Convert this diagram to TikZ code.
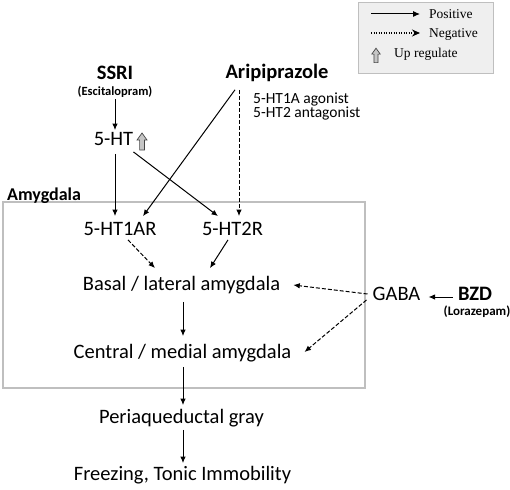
\documentclass[tikz,border=0pt]{standalone}
\usepackage{fontspec}
\setmainfont{Carlito}
\newfontfamily\tms{Liberation Serif}
\usetikzlibrary{arrows.meta,calc}
\definecolor{boxgray}{HTML}{BFBFBF}
\definecolor{legfill}{HTML}{EFEFEF}
\tikzset{
  lbl/.style={inner sep=0pt, text height=0.64em, text depth=0pt, font=\fontsize{20.5}{22}\selectfont},
  bld/.style={inner sep=0pt, text height=0.64em, text depth=0pt, font=\fontsize{20.5}{22}\selectfont\bfseries},
  sub/.style={inner sep=0pt, text height=0.64em, text depth=0pt, font=\fontsize{12.5}{14}\selectfont\bfseries},
  posarrow/.style={line width=1pt, -{Latex[length=6.5pt,width=5.5pt]}},
  negarrow/.style={line width=1pt, dash pattern=on 4pt off 2pt, -{Latex[length=6.5pt,width=5.5pt]}},
  legtxt/.style={inner sep=0pt, anchor=west, font=\tms\fontsize{13.5}{15}\selectfont},
  upicon/.pic={\draw[fill=gray!45, draw=gray!55!black, line width=0.7pt]
     (-2.4,9) -- (-2.4,-1) -- (-5,-1) -- (0,-8) -- (5,-1) -- (2.4,-1) -- (2.4,9) -- cycle;}
}
\begin{document}
\begin{tikzpicture}[x=1pt,y=-1pt]
\useasboundingbox (0,0) rectangle (510,489);
% legend
\draw[boxgray, fill=legfill, line width=0.8pt] (358,2) rectangle (493,73);
\coordinate (l1a) at (371,14); \coordinate (l1b) at (420,14);
\coordinate (l2a) at (371,33); \coordinate (l2b) at (420,33);
\draw[line width=1pt, -{Latex[length=7pt,width=6pt]}] (l1a) -- (l1b);
\draw[line width=1.4pt, dash pattern=on 1.3pt off 1.2pt, -{Stealth[length=8pt,width=7pt]}] (l2a) -- (l2b);
\node[legtxt] (lp) at (429,14) {Positive};
\node[legtxt] (ln) at (429,34) {Negative};
\pic[scale=0.85] at (376,55) {upicon};
\node[legtxt] (lu) at (394,54) {Up regulate};
% amygdala box
\draw[boxgray, line width=1.2pt] (3,202) rectangle (365,388);
\node[anchor=base west, inner sep=0pt, font=\fontsize{18}{20}\selectfont\bfseries] (amy) at (7,200) {Amygdala};
% nodes
\node[bld] (ssri) at (115,76) {SSRI};
\node[sub] (esc) at (115,92) {(Escitalopram)};
\node[lbl] (ht) at (113.5,142) {5-HT};
\pic at (142,141) {upicon};
\node[bld] (arip) at (277,75) {Aripiprazole};
\node[anchor=west, inner sep=0pt, font=\fontsize{15.5}{13.5}\selectfont, text height=0.64em, text depth=0pt] (ag1) at (253,100) {5-HT1A agonist};
\node[anchor=west, inner sep=0pt, font=\fontsize{15.5}{13.5}\selectfont, text height=0.64em, text depth=0pt] (ag2) at (253,114) {5-HT2 antagonist};
\node[lbl] (h1a) at (120,232) {5-HT1AR};
\node[lbl] (h2) at (232.5,232) {5-HT2R};
\node[lbl] (bla) at (181.5,287) {Basal / lateral amygdala};
\node[lbl] (cma) at (182.5,355) {Central / medial amygdala};
\node[lbl] (pag) at (181.5,420) {Periaqueductal gray};
\node[lbl] (frz) at (182.5,477) {Freezing, Tonic Immobility};
\node[lbl] (gaba) at (396.5,297) {GABA};
\node[bld] (bzd) at (475,297) {BZD};
\node[sub, font=\fontsize{13}{14}\selectfont\bfseries] (lor) at (477,312) {(Lorazepam)};
% connectors
\draw[posarrow] ($(esc.south)+(0,4)$) -- ($(ht.north)+(1.5,-8.5)$);
\draw[posarrow] ($(ht.south)+(1.5,8.5)$) -- ($(h1a.north)+(-5,-12.5)$);
\draw[posarrow] ($(ht.south east)+(0,6.5)$) -- ($(h2.north)+(-14.5,-12.5)$);
\draw[posarrow] ($(arip.south)+(-42,11.4)$) -- ($(h1a.north)+(23,-12.5)$);
\draw[negarrow] ($(arip.south)+(-38,11.4)$) -- ($(h2.north)+(6.5,-12.5)$);
\draw[negarrow] ($(h1a.south)+(8,4.5)$) -- ($(bla.north)+(-26.5,-15.5)$);
\draw[posarrow] ($(h2.south)+(-4.5,4.5)$) -- ($(bla.north)+(28.5,-15.5)$);
\draw[posarrow] ($(bla.south)+(1.5,11.5)$) -- ($(cma.north)+(0.5,-15.5)$);
\draw[posarrow] ($(cma.south)+(0.5,8.5)$) -- ($(pag.north)+(1.5,-11.5)$);
\draw[posarrow] ($(pag.south)+(1.5,6.5)$) -- ($(frz.north)+(0.5,-10.5)$);
\draw[posarrow] ($(bzd.west)+(-5,0)$) -- ($(gaba.east)+(8,0)$);
\draw[negarrow] ($(gaba.west)+(-5,-3)$) -- ($(bla.east)+(13,-2)$);
\draw[negarrow] ($(gaba.west)+(-6,3)$) -- ($(cma.east)+(13,-3)$);
\end{tikzpicture}
\end{document}
